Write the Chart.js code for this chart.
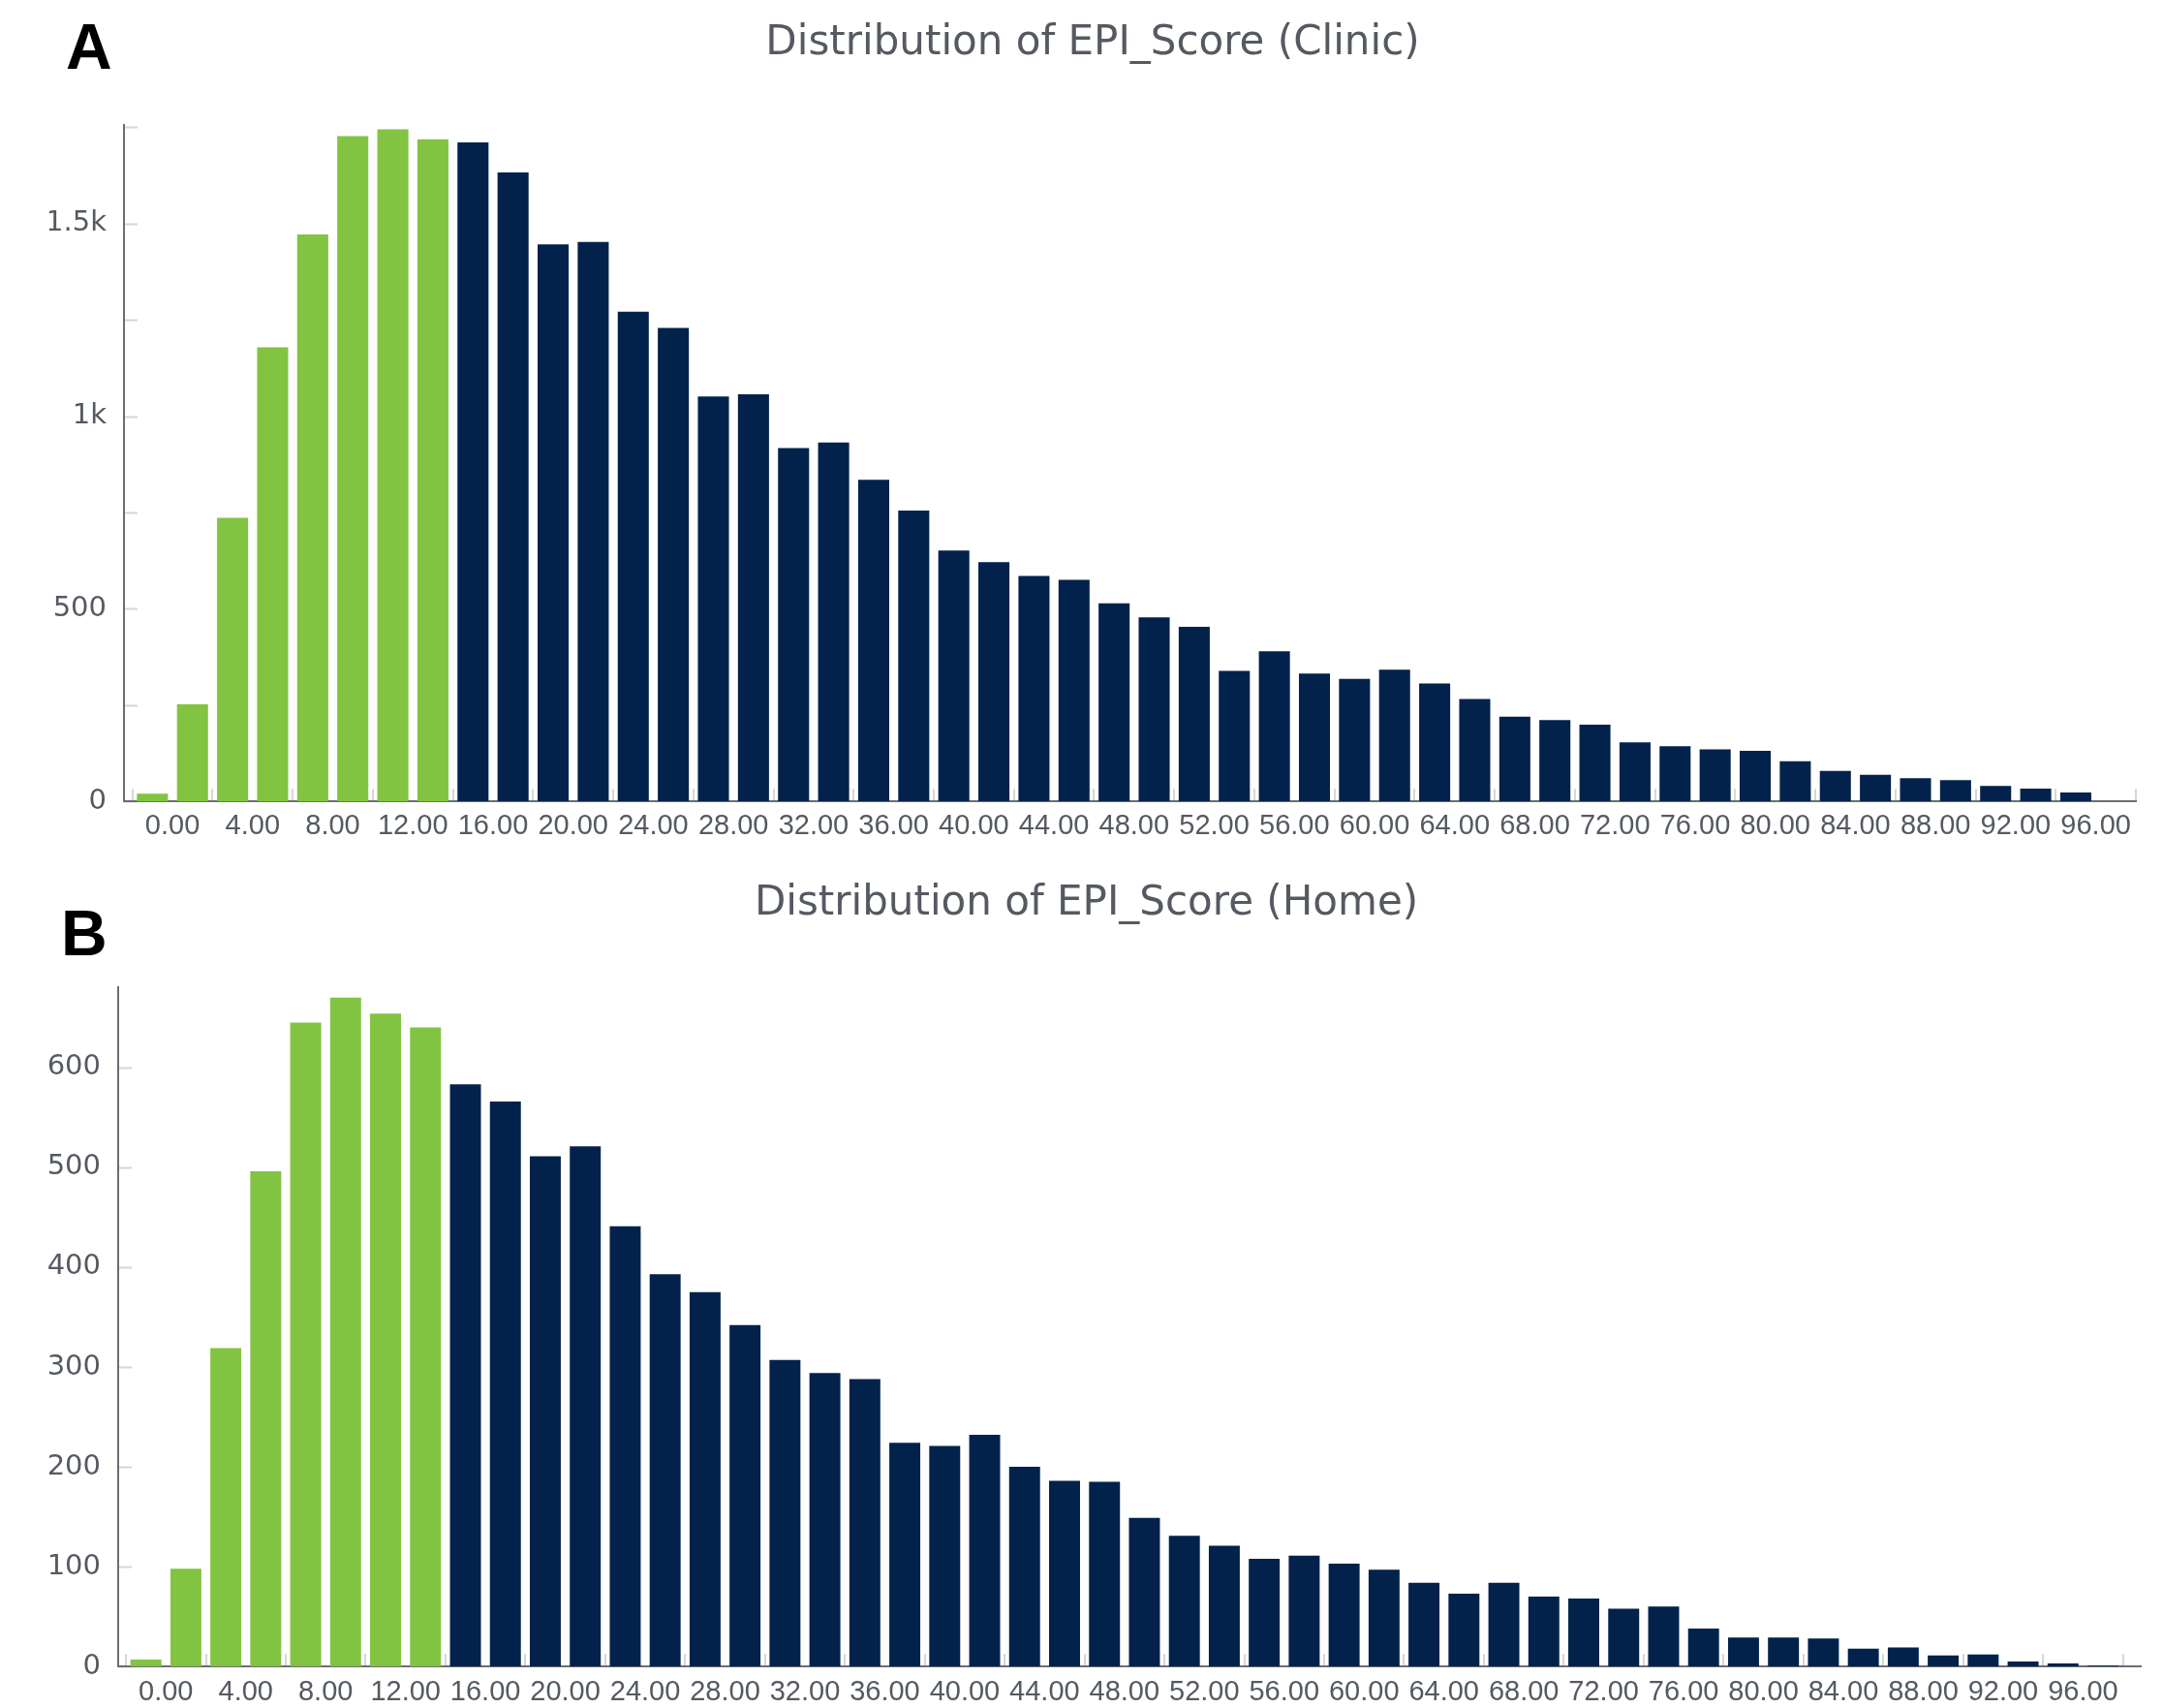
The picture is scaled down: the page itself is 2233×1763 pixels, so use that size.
<!DOCTYPE html>
<html>
<head>
<meta charset="utf-8">
<title>Distribution of EPI_Score</title>
<script src="https://cdn.jsdelivr.net/npm/chart.js@4.4.1/dist/chart.umd.min.js"></script>
<style>
  html, body { margin: 0; padding: 0; background: #ffffff; }
  #page { position: relative; width: 2233px; height: 1763px; overflow: hidden; background: #ffffff; }
  #page canvas { position: absolute; left: 0; }
  #clinicCanvas { top: 0; }
  #homeCanvas { top: 880px; }
  .panel-tag {
    position: absolute;
    font-family: "Liberation Sans", Arial, sans-serif;
    font-weight: bold;
    font-size: 66px;
    line-height: 66px;
    color: #000000;
  }
</style>
</head>
<body>
<div id="page">
  <canvas id="clinicCanvas" width="2233" height="880"></canvas>
  <canvas id="homeCanvas" width="2233" height="894"></canvas>
  <div class="panel-tag" style="left:68px; top:15px;">A</div>
  <div class="panel-tag" style="left:63px; top:930px;">B</div>
</div>
<script>
// Lower edge of each 2-point EPI_Score bin
const binStarts = [0, 2, 4, 6, 8, 10, 12, 14, 16, 18, 20, 22, 24, 26, 28, 30, 32, 34, 36, 38,
                   40, 42, 44, 46, 48, 50, 52, 54, 56, 58, 60, 62, 64, 66, 68, 70, 72, 74, 76, 78,
                   80, 82, 84, 86, 88, 90, 92, 94, 96, 98];
const binWidth = 2;

// Axis groups of two bins each, labelled by their lower edge
const groupStarts = [0, 4, 8, 12, 16, 20, 24, 28, 32, 36, 40, 44, 48, 52, 56, 60, 64, 68, 72, 76, 80, 84, 88, 92, 96];
const groupLabels = ['0.00', '4.00', '8.00', '12.00', '16.00', '20.00', '24.00', '28.00', '32.00', '36.00',
                     '40.00', '44.00', '48.00', '52.00', '56.00', '60.00', '64.00', '68.00', '72.00', '76.00',
                     '80.00', '84.00', '88.00', '92.00', '96.00'];
const groupWidth = 4;

// Counts per bin
const clinicCounts = [20, 252, 736, 1179, 1472, 1727, 1745, 1719, 1711, 1633, 1446, 1452, 1271, 1229, 1051, 1057,
                      917, 932, 835, 755, 651, 621, 585, 575, 514, 478, 453, 339, 390, 332, 318, 342,
                      306, 266, 220, 211, 199, 153, 143, 135, 131, 104, 79, 69, 60, 55, 40, 33, 23, 0];
const homeCounts = [7, 98, 319, 496, 645, 670, 654, 640, 583, 566, 511, 521, 441, 393, 375, 342,
                    307, 294, 288, 224, 221, 232, 200, 186, 185, 149, 131, 121, 108, 111, 103, 97,
                    84, 73, 84, 70, 68, 58, 60, 38, 29, 29, 28, 18, 19, 11, 12, 5, 3, 1];

// Y-axis ticks and their labels
const clinicYTicks = [0, 250, 500, 750, 1000, 1250, 1500, 1750];
const clinicYLabels = ['0', '', '500', '', '1k', '', '1.5k', ''];
const clinicYMax = 1755;
const homeYTicks = [0, 100, 200, 300, 400, 500, 600];
const homeYLabels = ['0', '100', '200', '300', '400', '500', '600'];
const homeYMax = 680;

// Bins below this score are highlighted
const lowScoreCutoff = 16;

const GREEN = '#82c341';
const NAVY = '#02224b';
const TEXT = '#555a61';
const AXIS = '#6b6e73';
const MARK = '#d6d6d6';

// Short inward tick marks along both axes, drawn under the bars and axis lines
const axisMarks = {
  id: 'axisMarks',
  beforeDraw(chart) {
    const { ctx, chartArea: a, scales } = chart;
    const x = scales.x, y = scales.y;
    ctx.save();
    ctx.strokeStyle = MARK;
    ctx.lineWidth = 2;
    ctx.beginPath();
    x.ticks.forEach(t => {
      const px = Math.round(x.getPixelForValue(t.value));
      ctx.moveTo(px, a.bottom);
      ctx.lineTo(px, a.bottom - 13);
    });
    y.ticks.forEach(t => {
      const py = Math.round(y.getPixelForValue(t.value)) + 0.5;
      ctx.moveTo(a.left, py);
      ctx.lineTo(a.left + 14, py);
    });
    ctx.stroke();
    ctx.restore();
  }
};

function buildHistogram(canvasId, cfg) {
  const edges = groupStarts.concat([groupStarts[groupStarts.length - 1] + groupWidth]);
  return new Chart(document.getElementById(canvasId), {
    type: 'bar',
    data: {
      datasets: [{
        data: binStarts.map((b, i) => ({ x: b + binWidth / 2, y: cfg.counts[i] })),
        backgroundColor: binStarts.map(b => (b < lowScoreCutoff ? GREEN : NAVY)),
        borderWidth: 0,
        categoryPercentage: 1,
        barPercentage: 0.775,
        xAxisID: 'x',
        yAxisID: 'y'
      }]
    },
    options: {
      responsive: false,
      animation: false,
      devicePixelRatio: 1,
      events: [],
      layout: { padding: cfg.padding },
      plugins: {
        legend: { display: false },
        tooltip: { enabled: false },
        title: {
          display: true,
          text: cfg.title,
          color: TEXT,
          font: { family: '"DejaVu Sans", sans-serif', size: 42, weight: 'normal', lineHeight: 1.2 },
          padding: cfg.titlePadding
        }
      },
      scales: {
        x: {
          type: 'linear',
          position: 'bottom',
          offset: false,
          min: cfg.xMin,
          max: cfg.xMax,
          afterBuildTicks: s => { s.ticks = edges.map(v => ({ value: v })); },
          ticks: { display: false },
          grid: { display: false, drawTicks: false, offset: false },
          border: { display: true, color: AXIS, width: 2 }
        },
        xl: {
          type: 'linear',
          axis: 'x',
          position: 'bottom',
          offset: false,
          min: cfg.xMin,
          max: cfg.xMax,
          afterBuildTicks: s => { s.ticks = groupStarts.map(v => ({ value: v + groupWidth / 2 })); },
          ticks: {
            autoSkip: false,
            maxRotation: 0,
            minRotation: 0,
            padding: cfg.xLabelPadding,
            color: TEXT,
            font: { family: '"Liberation Sans", Arial, sans-serif', size: 29 },
            callback: (value, index) => groupLabels[index]
          },
          grid: { display: false, drawTicks: false, offset: false },
          border: { display: false }
        },
        y: {
          type: 'linear',
          position: 'left',
          min: 0,
          max: cfg.yMax,
          afterFit: s => { s.width = cfg.yWidth; },
          afterBuildTicks: s => { s.ticks = cfg.yTicks.map(v => ({ value: v })); },
          ticks: {
            autoSkip: false,
            padding: 18,
            color: TEXT,
            font: { family: '"DejaVu Sans", sans-serif', size: 29 },
            callback: (value, index) => cfg.yLabels[index]
          },
          grid: { display: false, drawTicks: false },
          border: { display: true, color: AXIS, width: 2 }
        }
      }
    },
    plugins: [axisMarks]
  });
}

buildHistogram('clinicCanvas', {
  title: 'Distribution of EPI_Score (Clinic)',
  counts: clinicCounts,
  yMax: clinicYMax,
  yTicks: clinicYTicks,
  yLabels: clinicYLabels,
  xMin: -0.42,
  xMax: 100,
  yWidth: 77,
  padding: { left: 51, right: 28, top: 0, bottom: 2 },
  titlePadding: { top: 20, bottom: 59 },
  xLabelPadding: 8
});

buildHistogram('homeCanvas', {
  title: 'Distribution of EPI_Score (Home)',
  counts: homeCounts,
  yMax: homeYMax,
  yTicks: homeYTicks,
  yLabels: homeYLabels,
  xMin: -0.39,
  xMax: 100.89,
  yWidth: 89,
  padding: { left: 33, right: 23, top: 0, bottom: 1 },
  titlePadding: { top: 28, bottom: 61 },
  xLabelPadding: 9
});
</script>
</body>
</html>
